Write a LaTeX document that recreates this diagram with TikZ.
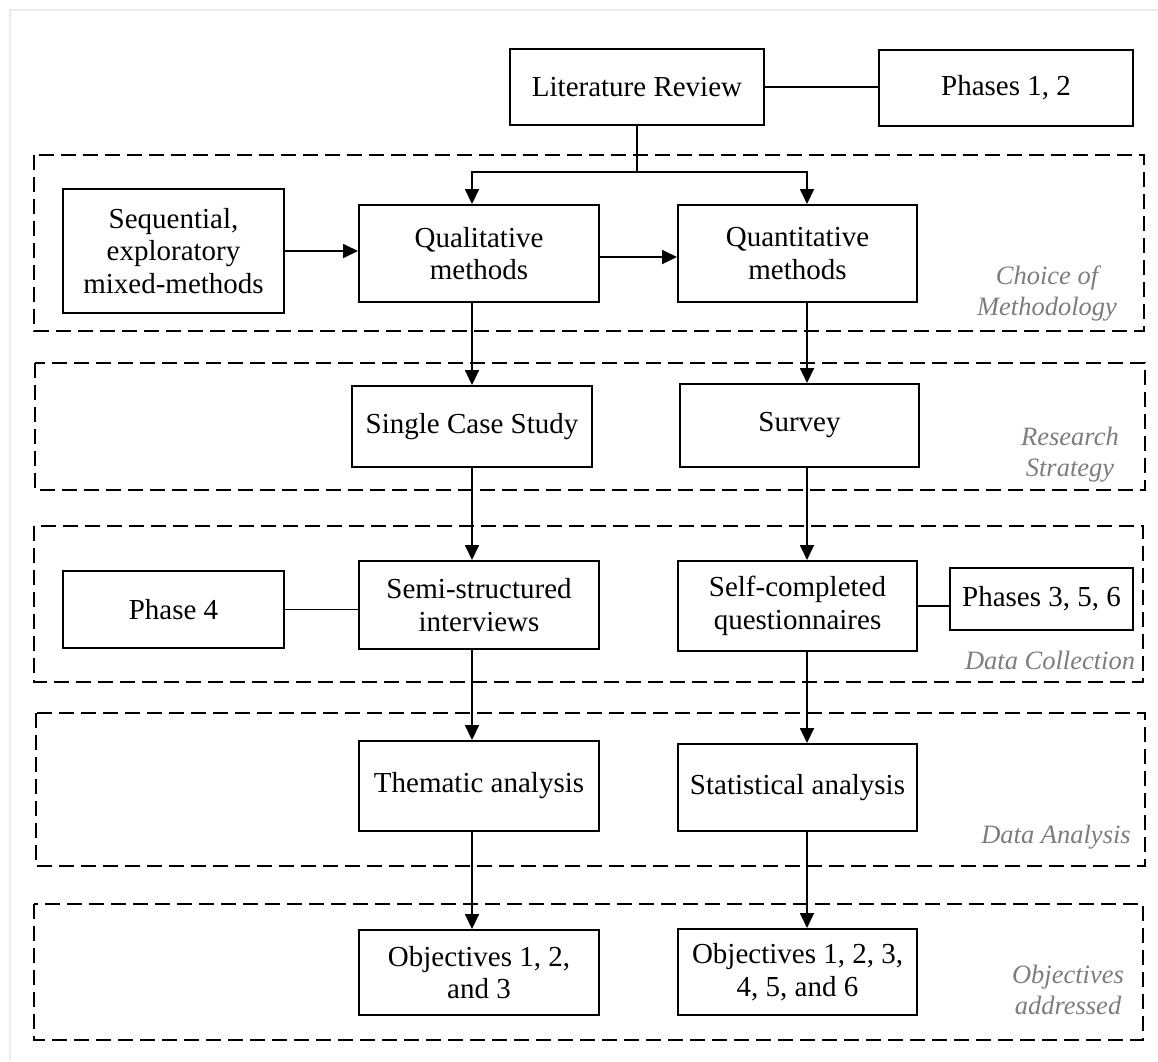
\documentclass[tikz,border=0pt]{standalone}
\usepackage{fontspec}
\setmainfont{Liberation Serif}
\usetikzlibrary{arrows.meta}

\definecolor{labelgray}{RGB}{125,125,125}
\definecolor{framegray}{RGB}{236,236,236}

\tikzset{
  stage/.style={draw=black, line width=2pt, fill=white, align=center,
    inner sep=0pt, font=\fontsize{29}{32.5}\selectfont},
  zone/.style={draw=black, line width=2pt, dash pattern=on 15pt off 7pt},
  link/.style={draw=black, line width=1.8pt},
  flow/.style={link, -{Triangle[length=15pt,width=14pt]}},
  zonelabel/.style={align=center, text=labelgray, inner sep=0pt,
    font=\fontsize{26.5}{31}\selectfont\itshape}
}

\begin{document}
\begin{tikzpicture}[x=1pt, y=-1pt]
\useasboundingbox (0,0) rectangle (1158,1061);

% page frame
\draw[framegray, line width=2pt] (10,1061) -- (10,10) -- (1158,10);

% dashed stage bands
\draw[zone] (34,155) rectangle (1144,331);
\draw[zone] (35,363) rectangle (1145,490);
\draw[zone] (34,526) rectangle (1143,682);
\draw[zone] (36,713) rectangle (1145,866);
\draw[zone] (34,904) rectangle (1143,1040);

% band labels
\node[zonelabel] (lblMeth) at (1047,294) {Choice of\\Methodology};
\node[zonelabel] (lblStrat) at (1070,455) {Research\\Strategy};
\node[zonelabel] (lblColl) at (1050,660) {Data Collection};
\node[zonelabel] (lblAnal) at (1056,837) {Data Analysis};
\node[zonelabel] (lblObj) at (1068,990) {Objectives\\addressed};

% boxes
\node[stage, minimum width=254pt, minimum height=76pt] (LR) at (637,87) {Literature Review};
\node[stage, minimum width=254pt, minimum height=76pt] (P12) at (1006,88) {Phases 1, 2};
\node[stage, minimum width=221pt, minimum height=124pt] (Seq) at (173.5,251) {Sequential,\\exploratory\\mixed-methods};
\node[stage, minimum width=240pt, minimum height=97pt] (Qual) at (479,253.5) {Qualitative\\methods};
\node[stage, minimum width=239pt, minimum height=97pt] (Quant) at (797.5,253.5) {Quantitative\\methods};
\node[stage, minimum width=240pt, minimum height=81pt] (SCS) at (472,426.5) {Single Case Study};
\node[stage, minimum width=239pt, minimum height=83pt] (Survey) at (799.5,425.5) {Survey};
\node[stage, minimum width=221pt, minimum height=77pt] (Ph4) at (173.5,609.5) {Phase 4};
\node[stage, minimum width=240pt, minimum height=88pt] (Semi) at (479,605) {Semi-structured\\interviews};
\node[stage, minimum width=239pt, minimum height=90pt] (Self) at (797.5,606) {Self-completed\\questionnaires};
\node[stage, minimum width=183pt, minimum height=62pt] (P356) at (1041.5,599) {Phases 3, 5, 6};
\node[stage, minimum width=240pt, minimum height=90pt] (Them) at (479,786) {Thematic analysis};
\node[stage, minimum width=239pt, minimum height=87pt] (Stat) at (797.5,787.5) {Statistical analysis};
\node[stage, minimum width=240pt, minimum height=85pt] (Obj1) at (479,972.5) {Objectives 1, 2,\\and 3};
\node[stage, minimum width=239pt, minimum height=86pt] (Obj2) at (797.5,972) {Objectives 1, 2, 3,\\4, 5, and 6};

% flow columns and branch point
\coordinate (colL) at (472,0);
\coordinate (colR) at (807,0);
\coordinate (split) at (637,172);

% connectors
\draw[link] (LR.east) -- (LR.east -| P12.west);
\draw[link] (LR.south) -- (split);
\draw[flow] (split) -| (colL |- Qual.north);
\draw[flow] (split) -| (colR |- Quant.north);
\draw[flow] (Seq.east) -- (Seq.east -| Qual.west);
\draw[flow] ([yshift=-3.5pt]Qual.east) -- ([yshift=-3.5pt]Qual.east -| Quant.west);

\draw[flow] (colL |- Qual.south) -- (colL |- SCS.north);
\draw[flow] (colR |- Quant.south) -- (colR |- Survey.north);
\draw[flow] (colL |- SCS.south) -- (colL |- Semi.north);
\draw[flow] (colR |- Survey.south) -- (colR |- Self.north);
\draw[link] (Ph4.east) -- (Ph4.east -| Semi.west);
\draw[link] (Self.east) -- (Self.east -| P356.west);
\draw[flow] (colL |- Semi.south) -- (colL |- Them.north);
\draw[flow] (colR |- Self.south) -- (colR |- Stat.north);
\draw[flow] (colL |- Them.south) -- (colL |- Obj1.north);
\draw[flow] (colR |- Stat.south) -- (colR |- Obj2.north);
\end{tikzpicture}
\end{document}
